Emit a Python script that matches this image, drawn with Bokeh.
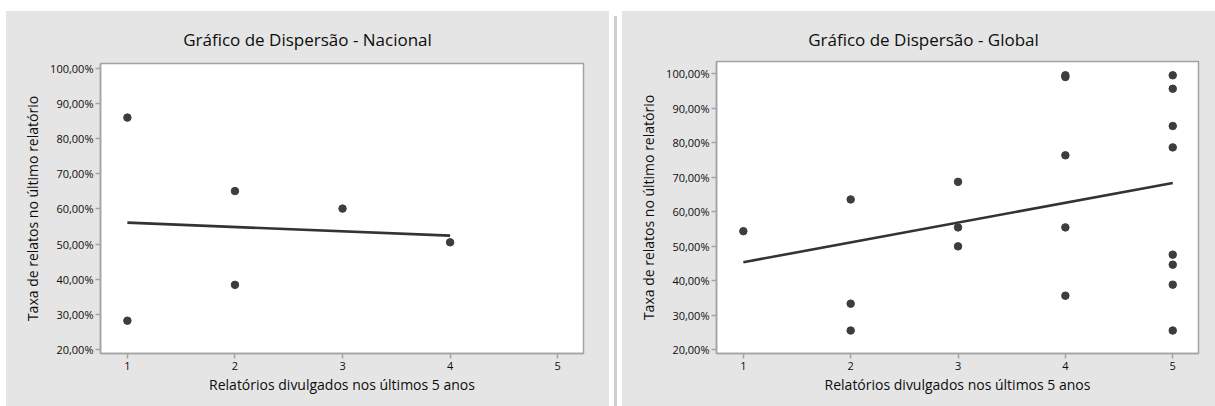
from bokeh.plotting import figure
from bokeh.layouts import row, column
from bokeh.models import Spacer, Div, FixedTicker
from bokeh.embed import file_html
from bokeh.resources import INLINE

# ---- data -------------------------------------------------------------
x_ticks = [1, 2, 3, 4, 5]
y_ticks = [20, 30, 40, 50, 60, 70, 80, 90, 100]
y_tick_labels = ["20,00%", "30,00%", "40,00%", "50,00%", "60,00%",
                 "70,00%", "80,00%", "90,00%", "100,00%"]

nacional_x = [1, 1, 2, 2, 3, 4]
nacional_y = [86.0, 28.2, 65.1, 38.4, 60.1, 50.5]
nacional_fit_x = [1, 4]
nacional_fit_y = [56.1, 52.4]

global_x = [1, 2, 2, 2, 3, 3, 3, 4, 4, 4, 4, 4, 5, 5, 5, 5, 5, 5, 5, 5]
global_y = [54.3, 63.5, 33.3, 25.5, 68.6, 55.4, 49.9, 99.0, 99.5, 76.3,
            55.4, 35.6, 99.5, 95.6, 84.8, 78.6, 47.5, 44.6, 38.8, 25.5]
global_fit_x = [1, 5]
global_fit_y = [45.3, 68.3]

x_label = "Relatórios divulgados nos últimos 5 anos"
y_label = "Taxa de relatos no último relatório"

FONT = "Open Sans"
PANEL = "#e5e5e5"
AXIS = "#a3a3a3"
MARK = "#3d3d3d"
TEXT = "#0d0d0d"

PANEL_W = 603
PANEL_H = 395
HEADER_H = 48


def header(title):
    html = (f'<div style="width:{PANEL_W}px;text-align:center;padding-top:18px;'
            f'line-height:22px;font-family:\'{FONT}\';font-size:17px;'
            f'color:{TEXT};">{title}</div>')
    return Div(text=html, width=PANEL_W, height=HEADER_H,
               styles={"background-color": PANEL, "margin": "0"})


def scatter_panel(title, xs, ys, fx, fy, y_range, border_top, border_right):
    p = figure(width=PANEL_W, height=PANEL_H - HEADER_H, x_range=(0.75, 5.24),
               y_range=y_range, output_backend="svg", toolbar_location=None,
               min_border_left=94, min_border_right=border_right,
               min_border_top=border_top, min_border_bottom=53)
    p.background_fill_color = "white"
    p.border_fill_color = PANEL
    p.outline_line_color = AXIS
    p.outline_line_width = 1.5
    p.xgrid.visible = False
    p.ygrid.visible = False

    for ax in (p.xaxis[0], p.yaxis[0]):
        ax.axis_line_color = AXIS
        ax.axis_line_width = 1.5
        ax.major_tick_line_color = AXIS
        ax.major_tick_line_width = 1.5
        ax.major_tick_out = 5
        ax.major_tick_in = 0
        ax.minor_tick_line_color = None
        ax.major_label_text_font = FONT
        ax.major_label_text_font_size = "11px"
        ax.major_label_text_color = TEXT
        ax.axis_label_text_font = FONT
        ax.axis_label_text_font_size = "14px"
        ax.axis_label_text_font_style = "normal"
        ax.axis_label_text_color = TEXT

    p.xaxis.ticker = FixedTicker(ticks=x_ticks)
    p.yaxis.ticker = FixedTicker(ticks=y_ticks)
    p.yaxis.major_label_overrides = {t: s for t, s in zip(y_ticks, y_tick_labels)}
    p.xaxis.axis_label = x_label
    p.yaxis.axis_label = y_label
    p.xaxis.major_label_standoff = 3
    p.xaxis.axis_label_standoff = 2
    p.yaxis.major_label_standoff = 2
    p.yaxis.axis_label_standoff = 5

    p.line(fx, fy, line_color="#333333", line_width=2.6)
    p.scatter(xs, ys, size=7.5, fill_color=MARK, line_color=MARK)

    return column(header(title), p, spacing=0,
                  styles={"background-color": PANEL})


p1 = scatter_panel("Gráfico de Dispersão - Nacional", nacional_x, nacional_y,
                   nacional_fit_x, nacional_fit_y, (18.86, 101.4), 4, 26)
p2 = scatter_panel("Gráfico de Dispersão - Global", global_x, global_y,
                   global_fit_x, global_fit_y, (18.84, 103.5), 2, 27)

divider = Div(width=3, height=PANEL_H, styles={"background-color": "#d0d0d0"})
layout = column(Spacer(width=1215, height=11),
                row(Spacer(width=6, height=PANEL_H), p1, divider, p2))

open("out.html", "w").write(file_html(layout, INLINE))
